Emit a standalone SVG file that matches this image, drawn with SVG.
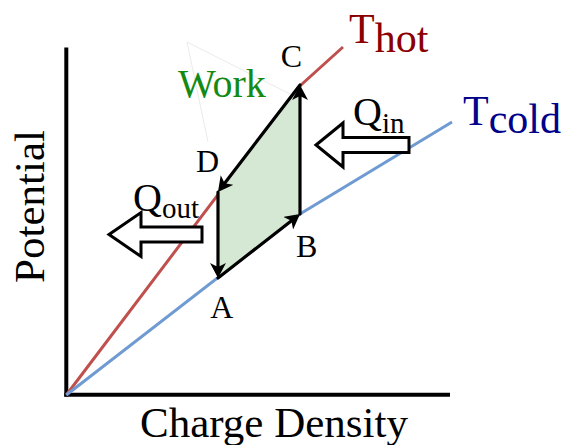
<svg xmlns="http://www.w3.org/2000/svg" width="563" height="445" viewBox="0 0 563 445">
  <defs>
    <marker id="ah" viewBox="0 0 15 16" markerUnits="userSpaceOnUse" markerWidth="15" markerHeight="16" refX="9" refY="8" orient="auto">
      <path d="M0,0 L15,8 L0,16 L4,8 z" fill="#000"/>
    </marker>
    <style>
      text { font-family: 'Liberation Serif', 'DejaVu Serif', serif; }
      .axis { stroke: #000; stroke-width: 4; fill: none; }
      .hot { stroke: #c0504d; stroke-width: 3; fill: none; }
      .cold { stroke: #6f9bd2; stroke-width: 3; fill: none; }
      .edge { stroke: #000; stroke-width: 3.2; fill: none; stroke-linecap: round; marker-end: url(#ah); }
      .block { fill: #fff; stroke: #000; stroke-width: 3; stroke-linejoin: miter; }
      .pt { font-size: 32px; fill: #000; text-anchor: middle; }
      .sub { font-size: 29px; }
      .faint { stroke: #e4e4e4; stroke-width: 0.8; fill: none; }
    </style>
  </defs>
  <rect width="563" height="445" fill="#fff"/>

  <g id="axes">
    <line class="axis" x1="66.3" y1="47.5" x2="66.3" y2="396.5"/>
    <line class="axis" x1="64.3" y1="394.8" x2="450" y2="394.8"/>
    <text font-family="Liberation Serif, serif" font-size="43" fill="#000" text-anchor="middle" x="274" y="437">Charge Density</text>
    <text font-family="Liberation Serif, serif" font-size="43" fill="#000" text-anchor="middle" transform="translate(44,206.5) rotate(-90)">Potential</text>
  </g>

  <g id="curve-hot">
    <polyline class="hot" points="66.3,395 301,85 343,47"/>
    <text x="349" y="43" font-size="42" fill="#8b0000">T<tspan y="51.7">hot</tspan></text>
  </g>

  <g id="curve-cold">
    <polyline class="cold" points="66.3,395 300,214 452,122"/>
    <text x="463" y="125" font-size="42" fill="#00008b">T<tspan y="133">cold</tspan></text>
  </g>

  <g id="work">
    <polygon points="218,278 300,214 300,85 218,192" fill="#d5e8d4"/>
    <path class="faint" d="M208,142 L187,42 L292,95"/>
    <text x="178" y="97" font-size="40" fill="#138a13">Work</text>
  </g>

  <g id="connectors">
    <path class="edge" d="M218,278 L295.3,217.7"/>
    <path class="edge" d="M300,214 L300,91"/>
    <path class="edge" d="M300,85 L221.6,187.2"/>
    <path class="edge" d="M218,192 L218,272"/>
  </g>

  <g id="point-A"><text class="pt" x="221.7" y="318">A</text></g>
  <g id="point-B"><text class="pt" x="306.7" y="256.5">B</text></g>
  <g id="point-C"><text class="pt" x="291.5" y="66.5">C</text></g>
  <g id="point-D"><text class="pt" x="207.5" y="172">D</text></g>

  <g id="q-in">
    <polygon class="block" points="316,145 343,123 343,137.5 409,137.5 409,152.5 343,152.5 343,167"/>
    <text x="353" y="125" font-size="40" fill="#000">Q<tspan class="sub" y="132.7">in</tspan></text>
  </g>

  <g id="q-out">
    <polygon class="block" points="109,234.5 141,212.5 141,227 202,227 202,242 141,242 141,256.5"/>
    <text x="133" y="211" font-size="40" fill="#000">Q<tspan class="sub" y="218">out</tspan></text>
  </g>
</svg>
